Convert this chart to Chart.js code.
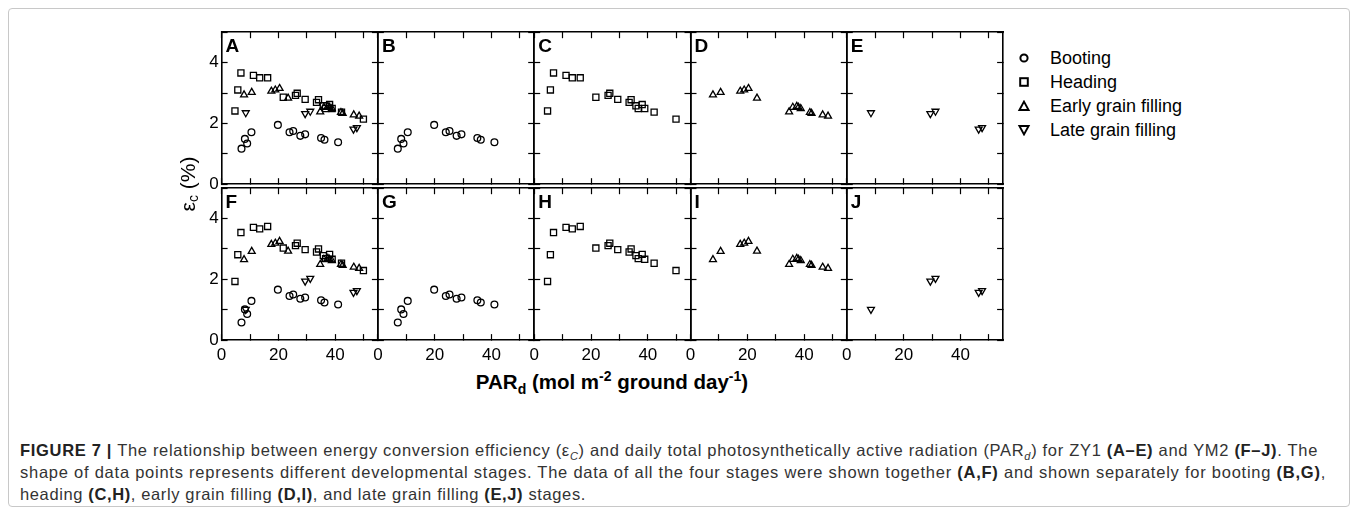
<!DOCTYPE html>
<html><head><meta charset="utf-8">
<script src="https://cdn.jsdelivr.net/npm/chart.js@4.4.1/dist/chart.umd.min.js"></script>
<style>
html,body{margin:0;padding:0;background:#fff;}
body{width:1358px;height:515px;position:relative;overflow:hidden;font-family:"Liberation Sans",Arial,sans-serif;color:#000;}
#frame{position:absolute;left:8px;top:8px;width:1342px;height:499px;border:1px solid #c8c8c8;border-radius:4px;box-sizing:border-box;}
canvas{position:absolute;}
#xt{position:absolute;left:412px;width:400px;top:369px;text-align:center;font-weight:bold;font-size:20.5px;line-height:26px;white-space:nowrap;color:#000;}
#xt sub,#xt sup{font-size:14px;line-height:0;}
#ytc{position:absolute;left:170px;top:134px;}
#legend{position:absolute;left:1010px;top:46px;font-size:18px;}
.li{position:absolute;left:0;height:24px;white-space:nowrap;line-height:24px;}
.li svg{position:absolute;left:5px;top:6px;}
.li span{position:absolute;left:40px;top:0;}
#cap{position:absolute;left:20px;top:439px;font-size:16.5px;line-height:22px;color:#333;white-space:nowrap;}
#cap div{height:22px;}
#cap b{color:#222;}
#cap sub{font-size:11px;line-height:0;font-style:italic;}
</style></head>
<body>
<div id="frame"></div>
<canvas id="ytc" width="36" height="100" aria-label="εc (%)"></canvas>
<div id="xt">PAR<sub>d</sub> (mol m<sup>-2</sup> ground day<sup>-1</sup>)</div>
<div id="legend"></div>
<div id="cap"><div data-w="1298"><b>FIGURE 7 |</b> The relationship between energy conversion efficiency (ε<sub>C</sub>) and daily total photosynthetically active radiation (PAR<sub>d</sub>) for ZY1 <b>(A–E)</b> and YM2 <b>(F–J)</b>. The</div><div data-w="1306">shape of data points represents different developmental stages. The data of all the four stages were shown together <b>(A,F)</b> and shown separately for booting <b>(B,G)</b>,</div><div data-w="566">heading <b>(C,H)</b>, early grain filling <b>(D,I)</b>, and late grain filling <b>(E,J)</b> stages.</div></div>
<script>
// ---------- data ----------
const stages = ['Booting', 'Heading', 'Early grain filling', 'Late grain filling'];
const panelLetters = [['A','B','C','D','E'], ['F','G','H','I','J']];
const xTicks = [0, 10, 20, 30, 40, 50];
const xTickLabels = ['0', '', '20', '', '40', ''];
const yTicks = [0, 1, 2, 3, 4, 5];
const yTickLabels = ['0', '', '2', '', '4', ''];
const xRange = [0, 55];
const yRange = [0, 5];
const yTitleParts = ['ε', 'c', ' (%)'];

// ZY1 (top row)  [PARd, εc]
const zy1Booting = [[7.0,1.17],[8.2,1.49],[9.0,1.34],[10.5,1.71],[19.8,1.95],[23.9,1.71],[25.2,1.75],[27.7,1.59],[29.4,1.64],[35.0,1.52],[36.2,1.46],[41.0,1.38]];
const zy1Heading = [[4.7,2.41],[5.7,3.10],[6.8,3.66],[11.2,3.58],[13.4,3.50],[16.2,3.50],[21.7,2.86],[26.0,2.92],[26.6,2.99],[29.4,2.79],[33.4,2.69],[34.1,2.78],[35.8,2.58],[36.6,2.49],[38.0,2.62],[38.9,2.49],[42.2,2.37],[49.9,2.14]];
const zy1Early = [[7.9,2.94],[10.6,3.02],[17.5,3.06],[18.9,3.10],[20.4,3.15],[23.4,2.83],[34.7,2.38],[36.0,2.53],[37.4,2.56],[38.0,2.53],[38.8,2.49],[42.0,2.36],[42.6,2.33],[46.5,2.28],[48.4,2.24]];
const zy1Late = [[8.5,2.35],[29.4,2.32],[31.2,2.40],[46.4,1.81],[47.6,1.86]];
// YM2 (bottom row)
const ym2Booting = [[7.0,0.58],[8.2,1.01],[9.0,0.86],[10.5,1.29],[19.8,1.66],[23.9,1.45],[25.2,1.50],[27.7,1.36],[29.4,1.40],[35.0,1.31],[36.2,1.24],[41.0,1.17]];
const ym2Heading = [[4.7,1.93],[5.7,2.81],[6.8,3.54],[11.2,3.71],[13.4,3.66],[16.2,3.74],[21.7,3.03],[26.0,3.11],[26.6,3.19],[29.4,2.98],[33.4,2.90],[34.1,3.00],[35.8,2.78],[36.6,2.68],[38.0,2.82],[38.9,2.66],[42.2,2.53],[49.9,2.29]];
const ym2Early = [[7.9,2.65],[10.6,2.92],[17.5,3.15],[18.9,3.19],[20.4,3.25],[23.4,2.93],[34.7,2.49],[36.0,2.66],[37.4,2.69],[38.0,2.66],[38.8,2.62],[42.0,2.49],[42.6,2.46],[46.5,2.40],[48.4,2.36]];
const ym2Late = [[8.5,1.01],[29.4,1.94],[31.2,2.03],[46.4,1.57],[47.6,1.63]];

const rowsData = [[zy1Booting, zy1Heading, zy1Early, zy1Late], [ym2Booting, ym2Heading, ym2Early, ym2Late]];

// ---------- styles / layout ----------
const FONT = '"Liberation Sans", Arial, sans-serif';
const markerStyles = [
  {pointStyle:'circle', radius:3.4, rotation:0},
  {pointStyle:'rect', radius:4.3, rotation:0},
  {pointStyle:'triangle', radius:4.0, rotation:0},
  {pointStyle:'triangle', radius:4.0, rotation:180}
];
const colLeft = [221.6, 377.9, 534.2, 690.5, 846.8];
const rowTop = [28.4, 184.3];
const PW = 156.3, PH = 155.8;
const AXW = 40; // space reserved for tick labels

const panelLabel = {
  id: 'panelLabel',
  afterDraw(chart, args, opts) {
    const {ctx, chartArea} = chart;
    ctx.save();
    ctx.font = 'bold 19px ' + FONT;
    ctx.fillStyle = '#000';
    ctx.textBaseline = 'alphabetic';
    ctx.fillText(opts.text, chartArea.left + 4, chartArea.top + 19.5);
    ctx.restore();
  }
};

function makeAxis(isX, pos, show, padding, size) {
  const ticks = isX ? xTicks : yTicks;
  const labels = isX ? xTickLabels : yTickLabels;
  const range = isX ? xRange : yRange;
  return {
    type: 'linear', position: pos, min: range[0], max: range[1],
    afterBuildTicks: s => { s.ticks = ticks.map(v => ({value: v})); },
    afterFit: s => { if (isX) s.height = size; else s.width = size; },
    ticks: {
      autoSkip: false, maxRotation: 0, minRotation: 0, includeBounds: false, padding: padding,
      font: {family: FONT, size: 17}, color: '#000',
      callback: (v) => show ? (labels[ticks.indexOf(v)] ?? '') : ''
    },
    grid: {display: true, drawOnChartArea: false, drawTicks: true, tickLength: -6, tickWidth: 1.2, tickColor: '#000'},
    border: {display: true, color: '#000', width: 1.6}
  };
}

for (let r = 0; r < 2; r++) {
  for (let c = 0; c < 5; c++) {
    const cl = Math.floor(colLeft[c]) - 50, ct = Math.floor(rowTop[r]) - 15;
    const cw = 222, ch = 222;
    const cv = document.createElement('canvas');
    cv.width = cw; cv.height = ch;
    cv.style.left = cl + 'px'; cv.style.top = ct + 'px';
    cv.style.width = cw + 'px'; cv.style.height = ch + 'px';
    document.body.appendChild(cv);
    const padL = colLeft[c] - cl, padT = rowTop[r] - ct;
    const stageIdx = c === 0 ? [0,1,2,3] : [c - 1];
    const datasets = stageIdx.map(i => ({
      label: stages[i],
      data: rowsData[r][i].map(p => ({x: p[0], y: p[1]})),
      pointStyle: markerStyles[i].pointStyle,
      pointRadius: markerStyles[i].radius,
      pointRotation: markerStyles[i].rotation,
      pointBorderWidth: 1.3,
      borderColor: '#000',
      backgroundColor: 'rgba(0,0,0,0)',
      showLine: false
    }));
    new Chart(cv, {
      type: 'scatter',
      data: {datasets},
      options: {
        responsive: false, animation: false, devicePixelRatio: 1,
        events: [],
        layout: {padding: {left: padL - AXW, top: padT, right: cw - padL - PW, bottom: ch - padT - PH - AXW}},
        plugins: {legend: {display: false}, tooltip: {enabled: false}, panelLabel: {text: panelLetters[r][c]}},
        scales: {
          x: makeAxis(true, 'bottom', r === 1, 11.5, AXW),
          y: makeAxis(false, 'left', c === 0, 9, AXW),
          x2: makeAxis(true, 'top', false, 0, 0),
          y2: makeAxis(false, 'right', false, 0, 0)
        }
      },
      plugins: [panelLabel]
    });
  }
}

// y-axis title (rotated text drawn on a small canvas)
(function () {
  const cv = document.getElementById('ytc');
  const ctx = cv.getContext('2d');
  ctx.translate(cv.width / 2 + 1, cv.height / 2);
  ctx.rotate(-Math.PI / 2);
  ctx.fillStyle = '#000';
  ctx.textBaseline = 'middle';
  const big = '21px ' + FONT, small = '14px ' + FONT;
  ctx.font = big; const w0 = ctx.measureText(yTitleParts[0]).width;
  ctx.font = small; const w1 = ctx.measureText(yTitleParts[1]).width;
  ctx.font = big; const w2 = ctx.measureText(yTitleParts[2]).width;
  let x = -(w0 + w1 + w2) / 2;
  ctx.font = big; ctx.fillText(yTitleParts[0], x, 0); x += w0;
  ctx.font = small; ctx.fillText(yTitleParts[1], x, 5); x += w1;
  ctx.font = big; ctx.fillText(yTitleParts[2], x, 0);
})();

// legend (HTML, real text)
const legendShapes = [
  '<circle cx="9" cy="6" r="3.6" fill="none" stroke="#000" stroke-width="2"/>',
  '<rect x="5.2" y="2.2" width="7.6" height="7.6" fill="none" stroke="#000" stroke-width="2"/>',
  '<polygon points="9,1.6 13.6,10 4.4,10" fill="none" stroke="#000" stroke-width="1.9"/>',
  '<polygon points="4.4,2 13.6,2 9,10.4" fill="none" stroke="#000" stroke-width="1.9"/>'
];
const lg = document.getElementById('legend');
stages.forEach((s, i) => {
  const d = document.createElement('div');
  d.className = 'li';
  d.style.top = (i * 24) + 'px';
  d.innerHTML = '<svg width="18" height="12">' + legendShapes[i] + '</svg><span>' + s + '</span>';
  lg.appendChild(d);
});

// stretch caption lines to the widths they have in the figure
document.querySelectorAll('#cap > div').forEach(line => {
  const range = document.createRange();
  range.selectNodeContents(line);
  const natural = range.getBoundingClientRect().width;
  const n = line.textContent.length;
  const target = +line.dataset.w;
  line.style.letterSpacing = ((target - natural) / n) + 'px';
});
</script>
</body></html>
